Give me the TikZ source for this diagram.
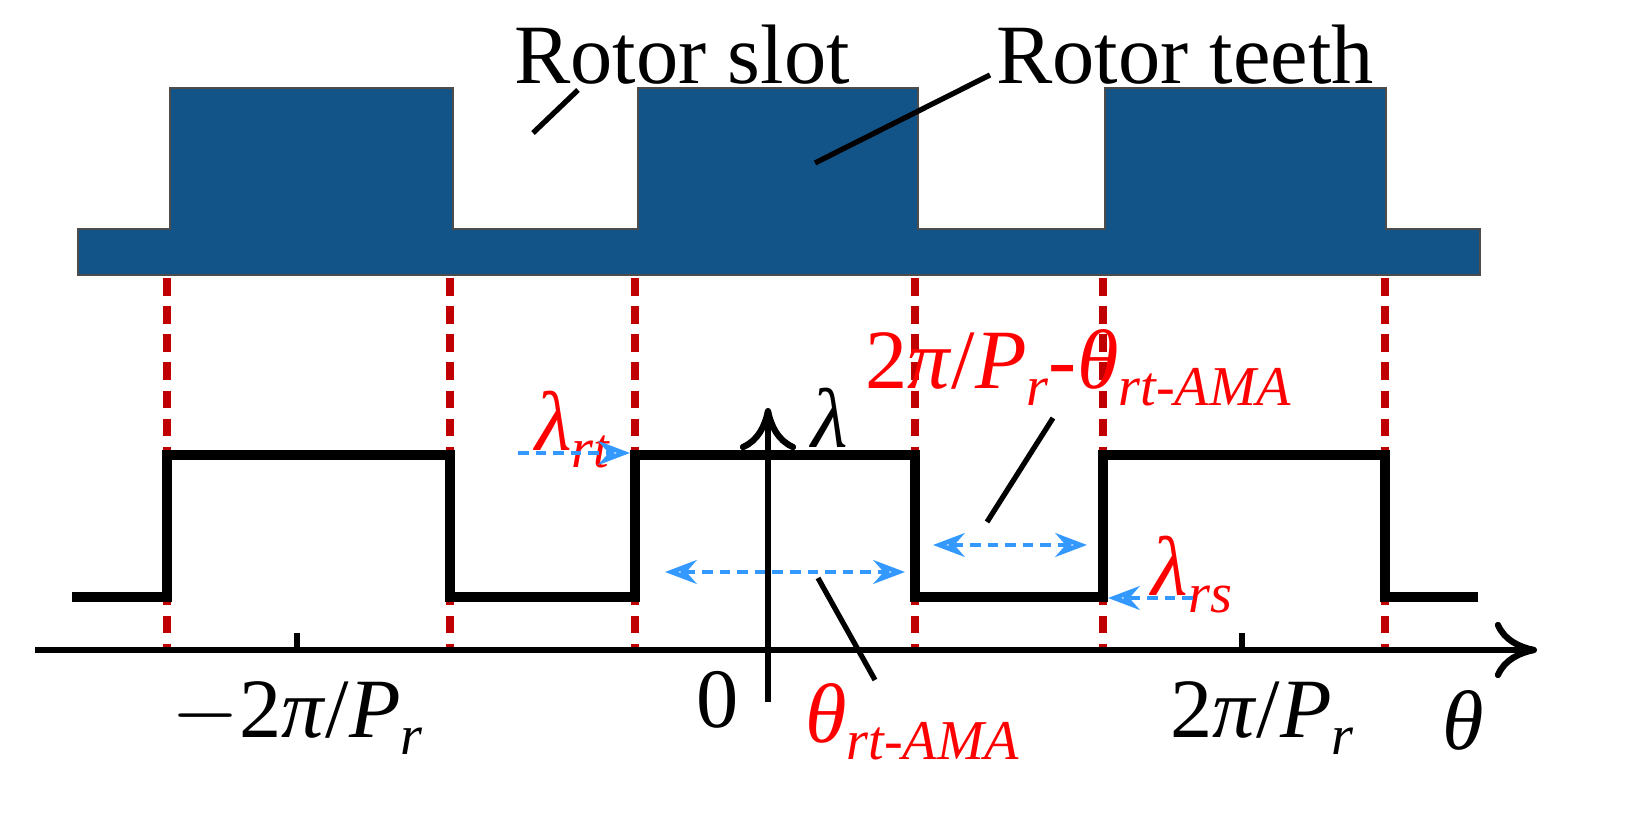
\documentclass[tikz,border=0pt]{standalone}
\usepackage{fontspec}
\setmainfont{Liberation Serif}
\usetikzlibrary{arrows.meta}
\definecolor{rotor}{RGB}{19,84,136}
\definecolor{dred}{RGB}{192,0,0}
\definecolor{lblue}{RGB}{51,153,255}
\newcommand{\sbs}[1]{\raisebox{-0.2em}{\fontsize{16}{18}\selectfont\textit{#1}}}
\begin{document}
\begin{tikzpicture}[x=0.01cm,y=-0.01cm,
  rd/.style={dred,line width=2.2pt,dash pattern=on 5pt off 3pt},
  ba/.style={lblue,line width=1.3pt,dash pattern=on 3pt off 2pt,-{Stealth[length=9pt,open]}},
  bb/.style={lblue,line width=1.3pt,dash pattern=on 3pt off 2pt,{Stealth[length=9pt,open]}-{Stealth[length=9pt,open]}},
  lbl/.style={font=\fontsize{24}{28}\selectfont,inner sep=0pt},
  rl/.style={font=\fontsize{24}{28}\selectfont,inner sep=0pt,red},
  pt/.style={black,line width=1.5pt}]
% rotor
\fill[rotor,draw=black!70,line width=0.6pt] (78,229) -- (170,229) -- (170,88) -- (453,88) -- (453,229) -- (638,229) -- (638,88) -- (918,88) -- (918,229) -- (1105,229) -- (1105,88) -- (1386,88) -- (1386,229) -- (1480,229) -- (1480,275) -- (78,275) -- cycle;
% dashed guides
\foreach \x in {167,450,635,915,1103,1385} \draw[rd] (\x,278) -- (\x,650);
% waveform
\draw[line width=3pt,line join=miter] (72,597) -- (167,597) -- (167,455) -- (450,455) -- (450,597) -- (635,597) -- (635,455) -- (915,455) -- (915,597) -- (1103,597) -- (1103,455) -- (1385,455) -- (1385,597) -- (1478,597);
% axes
\coordinate (xs) at (35,650); \coordinate (xe) at (1537,650);
\draw[line width=1.8pt,-{To[length=12pt,width=16pt]}] (xs) -- (xe);
\coordinate (ys) at (768,702); \coordinate (ye) at (768,408);
\draw[line width=1.8pt,-{To[length=12pt,width=16pt]}] (ys) -- (ye);
\draw[line width=1.8pt] (297,633) -- (297,650) (1242,633) -- (1242,650);
% labels
\node[lbl] (m2) at (297,718) {$-$2\textit{π}/\textit{P}\sbs{r}};
\node[lbl] (zero) at (718,700) {0};
\node[lbl] (p2) at (1262,718) {2\textit{π}/\textit{P}\sbs{r}};
\node[lbl] (th) at (1463,720) {\textit{θ}};
\node[lbl] (lam) at (830,418) {\textit{λ}};
\node[lbl] (slot) at (682,55) {Rotor slot};
\node[lbl] (teeth) at (1185,55) {Rotor teeth};
\draw[pt] (533,133) -- (578,90);
\draw[pt] (815,163) -- (990,75);
% red labels
\node[rl] (lrt) at (573,430) {\textit{λ}\sbs{rt}};
\draw[ba] (518,453) -- (630,453);
\node[rl] (big) at (1078,368) {2\textit{π}/\textit{P}\sbs{r}-\textit{θ}\sbs{rt-AMA}};
\draw[pt] (987,522) -- (1053,418);
\draw[bb] (933,545) -- (1087,545);
\node[rl] (lrs) at (1192,575) {\textit{λ}\sbs{rs}};
\draw[ba] (1193,598) -- (1108,598);
\node[rl] (tra) at (912,722) {\textit{θ}\sbs{rt-AMA}};
\draw[pt] (875,680) -- (818,578);
\draw[bb] (665,572) -- (905,572);
\pgfresetboundingbox
\path[use as bounding box] (0,0) rectangle (1641,813);
\end{tikzpicture}
\end{document}
